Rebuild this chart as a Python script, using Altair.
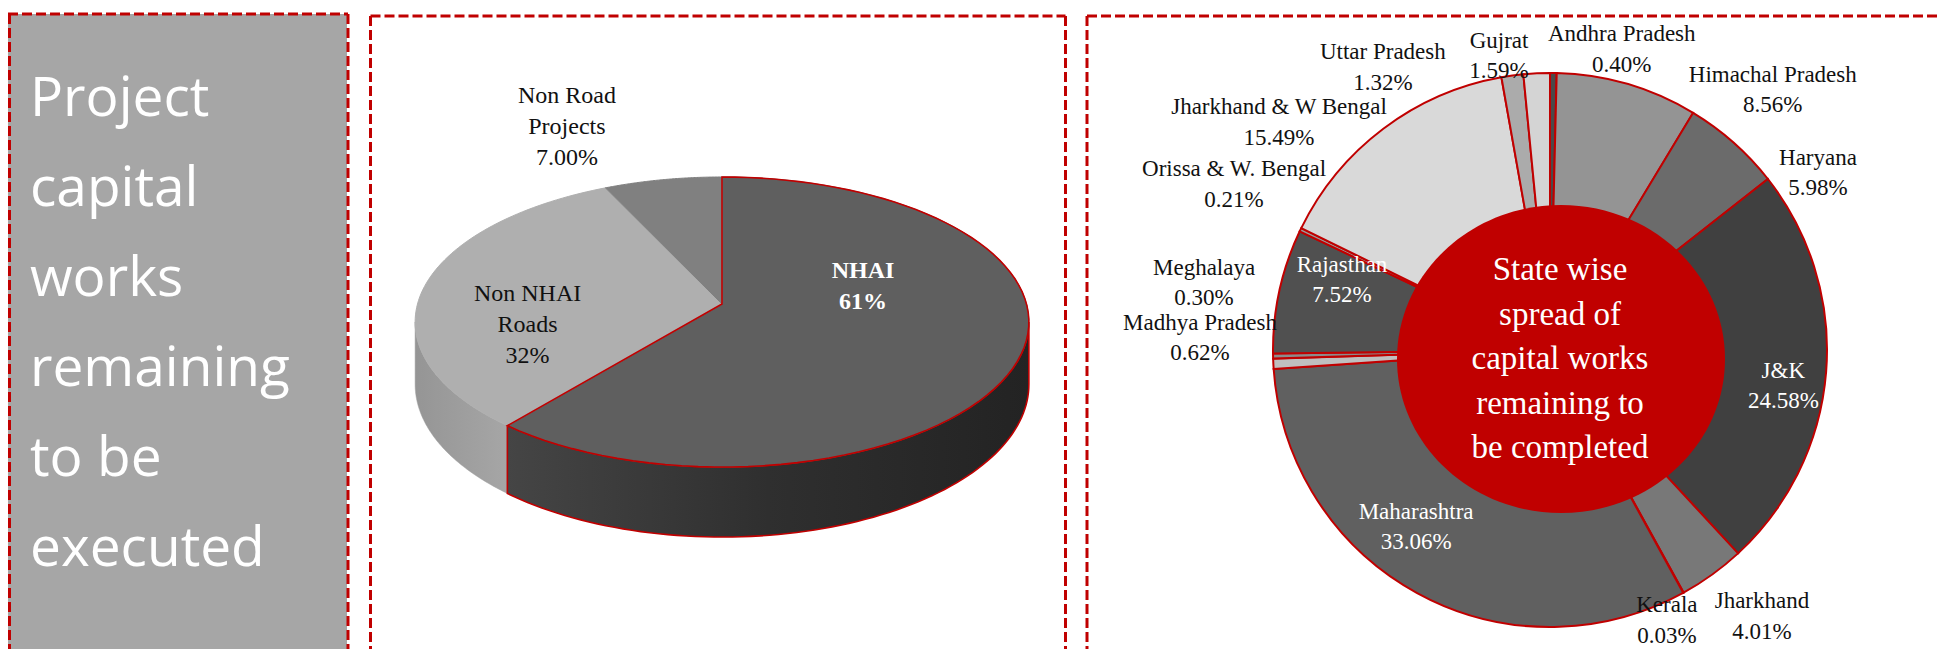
import math
import altair as alt
import pandas as pd

# ------------------------------------------------------------------ data
pie_names = ["NHAI", "Non NHAI\nRoads", "Non Road\nProjects"]
pie_values = [61, 32, 7]
pie_value_text = ["61%", "32%", "7.00%"]

state_names = ["Andhra Pradesh", "Himachal Pradesh", "Haryana", "J&K", "Jharkhand",
               "Kerala", "Maharashtra", "Madhya Pradesh", "Meghalaya", "Rajasthan",
               "Orissa & W. Bengal", "Jharkhand & W Bengal", "Uttar Pradesh", "Gujrat"]
state_values = [0.40, 8.56, 5.98, 24.58, 4.01, 0.03, 33.06, 0.62, 0.30, 7.52,
                0.21, 15.49, 1.32, 1.59]

panel_title = "Project\ncapital\nworks\nremaining\nto be\nexecuted"
centre_text = "State wise\nspread of\ncapital works\nremaining to\nbe completed"

# ------------------------------------------------------------------ style
W, H = 1933, 641
RED = "#c00000"
SERIF = "Liberation Serif"
pie_top_colors = ["#5f5f5f", "#afafaf", "#808080"]
state_colors = ["#4a4a4a", "#949494", "#6b6b6b", "#404040", "#787878", "#8c8c8c",
                "#606060", "#bfbfbf", "#8c8c8c", "#505050", "#9a9a9a", "#d9d9d9",
                "#ababab", "#d4d4d4"]
state_label_white = [0, 0, 0, 1, 0, 0, 1, 0, 0, 1, 0, 0, 0, 0]

# ------------------------------------------------------------------ layout
# 3-D pie (perspective ellipse)
APX, APY = 714, 296          # apex of the pie in pixels
PA, PC = 304.5, 142.8        # horizontal / vertical semi axes
PK = 0.1242                  # perspective factor
PDEPTH = 61.3 / PC           # thickness in y units
N = 80
TH_R = math.acos(-PK)
TH_L = 2 * math.pi - TH_R
pie_label_r = [0.65, 0.65, 1.25]
pie_label_dx = [-50.5, 0, -83]
pie_label_dy = [-50.3, 33, -26]
PIE_FS, PIE_LH = 24, 31

# donut
CX, CY = 1542, 342
R_OUT, R_IN = 277, 138
state_label_r = [310, 310, 310, 212, 310, 310, 212, 310, 310, 212, 310, 310, 310, 310]
state_label_dx = [68, 136, 62.6, 22, 30.6, -32.4, -32.2, -40.4, -36, -0.9, -36.7, -84.4, -125, -36]
state_label_dy = [9.5, 37.6, 55.2, 19.1, 15.1, -1, -8.9, -27.2, -74, -24.8, -31.1, 20, 24.5, 15.6]
ST_FS, ST_LH = 23, 30.5
ELL_X, ELL_Y, ELL_RX, ELL_RY = 1553, 351, 164, 154

one = pd.DataFrame({"k": [0]})

# ------------------------------------------------------------------ left panel
left_bg = alt.Chart(one).mark_rect(color="#a6a6a6").encode(
    x=alt.value(0), x2=alt.value(339), y=alt.value(6), y2=alt.value(H + 20))

title_txt = alt.Chart(pd.DataFrame({"t": [panel_title]})).mark_text(
    font="Open Sans", fontSize=55, lineHeight=90, lineBreak="\n", color="white",
    align="left", baseline="middle").encode(
    x=alt.value(22), y=alt.value(91), text="t:N")


def border(x1, x2, y1, y2):
    return alt.Chart(one).mark_rule(stroke=RED, strokeWidth=3, strokeDash=[10, 4]).encode(
        x=alt.value(x1), x2=alt.value(x2), y=alt.value(y1), y2=alt.value(y2))


borders = [
    border(0, 340, 6, 6), border(1.5, 1.5, 6, H + 20), border(340, 340, 6, H + 20),
    border(362.5, 1057.5, 8, 8), border(362.5, 362.5, 8, H + 20), border(1057.5, 1057.5, 8, H + 20),
    border(1079, W + 20, 8, 8), border(1079, 1079, 8, H + 20),
]

# ------------------------------------------------------------------ 3-D pie
pie_df = pd.DataFrame({
    "cat": pie_names, "value": pie_values, "pct": pie_value_text,
    "idx": list(range(len(pie_names))),
    "lr": pie_label_r, "ldx": pie_label_dx, "ldy": pie_label_dy,
})

xs = alt.Scale(domain=[-1, 1], range=[APX - PA, APX + PA], nice=False, zero=False)
ys = alt.Scale(domain=[-1, 1], range=[APY - PC, APY + PC], nice=False, zero=False)
pie_scale = alt.Scale(domain=pie_names, range=pie_top_colors)
X = alt.X("xu:Q", scale=xs, axis=None)
Y = alt.Y("yu:Q", scale=ys, axis=None)

pie_base = alt.Chart(pie_df).transform_window(
    cum="sum(value)", sort=[alt.SortField("idx")], frame=[None, 0]
).transform_joinaggregate(total="sum(value)").transform_calculate(
    a0="2*PI*(datum.cum - datum.value)/datum.total"
).transform_calculate(
    a1="2*PI*datum.cum/datum.total"
)

top_pts = pie_base.transform_calculate(s=f"sequence(-1, {N + 1})").transform_flatten(
    ["s"]).transform_calculate(
    th=f"datum.a0 + (datum.a1 - datum.a0)*max(datum.s, 0)/{N}"
).transform_calculate(
    rr="datum.s < 0 ? 0 : 1"
).transform_calculate(
    xu=f"datum.rr*sin(datum.th)/(1 + {PK}*datum.rr*cos(datum.th))"
).transform_calculate(
    yu=f"-datum.rr*cos(datum.th)/(1 + {PK}*datum.rr*cos(datum.th))"
)

side_pts = pie_base.transform_calculate(
    b0=f"max(datum.a0, {TH_R})"
).transform_calculate(
    b1=f"min(datum.a1, {TH_L})"
).transform_filter("datum.b1 > datum.b0").transform_calculate(
    s=f"sequence(0, {2 * N + 2})").transform_flatten(["s"]).transform_calculate(
    th=(f"datum.s <= {N} ? datum.b0 + (datum.b1 - datum.b0)*datum.s/{N}"
        f" : datum.b1 - (datum.b1 - datum.b0)*(datum.s - {N + 1})/{N}")
).transform_calculate(
    hh=f"datum.s <= {N} ? 0 : {PDEPTH}"
).transform_calculate(
    xu=f"sin(datum.th)/(1 + {PK}*cos(datum.th))"
).transform_calculate(
    yu=f"(-cos(datum.th) + datum.hh)/(1 + {PK}*cos(datum.th))"
)

grad_nhai = alt.Gradient(gradient="linear", x1=0, x2=1, y1=0, y2=0, stops=[
    alt.GradientStop(offset=0, color="#454545"),
    alt.GradientStop(offset=0.5, color="#2f2f2f"),
    alt.GradientStop(offset=1, color="#232323")])
grad_non = alt.Gradient(gradient="linear", x1=0, x2=1, y1=0, y2=0, stops=[
    alt.GradientStop(offset=0, color="#959595"),
    alt.GradientStop(offset=1, color="#a6a6a6")])

side_nhai = side_pts.transform_filter("datum.idx == 0").mark_line(
    interpolate="linear-closed", fill=grad_nhai, stroke=RED, strokeWidth=1.6).encode(
    x=X, y=Y, order="s:Q")
side_non = side_pts.transform_filter("datum.idx == 1").mark_line(
    interpolate="linear-closed", fill=grad_non, stroke="#9e9e9e", strokeWidth=0.5).encode(
    x=X, y=Y, order="s:Q")

tops = top_pts.mark_line(interpolate="linear-closed", strokeWidth=1).encode(
    x=X, y=Y,
    fill=alt.Fill("cat:N", scale=pie_scale, legend=None),
    stroke=alt.Stroke("cat:N", scale=pie_scale, legend=None),
    detail="cat:N",
    order="s:Q",
)
nhai_outline = top_pts.transform_filter("datum.idx == 0").mark_line(
    interpolate="linear-closed", stroke=RED, strokeWidth=1.6).encode(
    x=X, y=Y, order="s:Q")

pie_lab_base = pie_base.transform_calculate(
    mid="(datum.a0 + datum.a1)/2"
).transform_calculate(
    label="datum.cat + '\\n' + datum.pct"
).transform_calculate(
    nl="length(split(datum.label, '\\n'))"
).transform_calculate(
    xu=f"datum.lr*sin(datum.mid)/(1 + {PK}*datum.lr*cos(datum.mid)) + datum.ldx/{PA}"
).transform_calculate(
    yu=(f"-datum.lr*cos(datum.mid)/(1 + {PK}*datum.lr*cos(datum.mid))"
        f" + (datum.ldy - (datum.nl - 1)*{PIE_LH / 2})/{PC}")
)
pie_lab_nhai = pie_lab_base.transform_filter("datum.idx == 0").mark_text(
    font=SERIF, fontSize=PIE_FS, fontWeight="bold", lineHeight=PIE_LH, lineBreak="\n",
    color="white", align="center", baseline="middle").encode(x=X, y=Y, text="label:N")
pie_lab_other = pie_lab_base.transform_filter("datum.idx > 0").mark_text(
    font=SERIF, fontSize=PIE_FS, lineHeight=PIE_LH, lineBreak="\n",
    color="#111111", align="center", baseline="middle").encode(x=X, y=Y, text="label:N")

pie_layer = alt.layer(side_non, side_nhai, tops, nhai_outline, pie_lab_other, pie_lab_nhai)

# ------------------------------------------------------------------ donut
state_df = pd.DataFrame({
    "state": state_names, "value": state_values,
    "idx": list(range(len(state_names))), "white": state_label_white,
    "lr": state_label_r, "ldx": state_label_dx, "ldy": state_label_dy,
})

arcs = alt.Chart(state_df).mark_arc(
    radius=R_OUT, radius2=R_IN, stroke=RED, strokeWidth=2).encode(
    theta=alt.Theta("value:Q", stack=True),
    color=alt.Color("state:N", scale=alt.Scale(domain=state_names, range=state_colors),
                    legend=None),
    order=alt.Order("idx:Q"),
    x=alt.value(CX), y=alt.value(CY),
)

ell_ratio = ELL_RY / ELL_RX
ELLIPSE = f"M-1,0A1,{ell_ratio:.4f},0,1,0,1,0A1,{ell_ratio:.4f},0,1,0,-1,0Z"
ellipse = alt.Chart(one).mark_point(
    shape=ELLIPSE, size=(2 * ELL_RX) ** 2, filled=True, fill=RED, opacity=1,
    strokeWidth=0).encode(x=alt.value(ELL_X), y=alt.value(ELL_Y))

centre = alt.Chart(pd.DataFrame({"t": [centre_text]})).mark_text(
    font=SERIF, fontSize=33, lineHeight=44.5, lineBreak="\n", color="white",
    align="center", baseline="middle").encode(
    x=alt.value(1552), y=alt.value(262), text="t:N")

state_labels = alt.Chart(state_df).transform_window(
    cum="sum(value)", sort=[alt.SortField("idx")], frame=[None, 0]
).transform_joinaggregate(total="sum(value)").transform_calculate(
    mid="2*PI*(datum.cum - datum.value/2)/datum.total"
).transform_calculate(
    label="datum.state + '\\n' + format(datum.value, '.2f') + '%'"
).transform_calculate(
    lx=f"{CX} + datum.lr*sin(datum.mid) + datum.ldx"
).transform_calculate(
    ly=f"{CY} - datum.lr*cos(datum.mid) + datum.ldy - {ST_LH / 2}"
).mark_text(font=SERIF, fontSize=ST_FS, lineHeight=ST_LH, lineBreak="\n",
            align="center", baseline="middle").encode(
    x=alt.X("lx:Q", scale=None, axis=None),
    y=alt.Y("ly:Q", scale=None, axis=None),
    text="label:N",
    color=alt.condition(alt.datum.white == 1, alt.value("white"), alt.value("#111111")),
)

donut_layer = alt.layer(arcs, ellipse, centre, state_labels)

# ------------------------------------------------------------------ assemble
chart = alt.layer(
    left_bg, title_txt, *borders, pie_layer, donut_layer
).resolve_scale(
    x="independent", y="independent", color="independent",
    fill="independent", stroke="independent"
).properties(
    width=W, height=H, padding=0,
    autosize=alt.AutoSizeParams(type="none"),
).configure_view(stroke="transparent")

chart.save("out.html", embed_options={"renderer": "svg", "actions": False})
